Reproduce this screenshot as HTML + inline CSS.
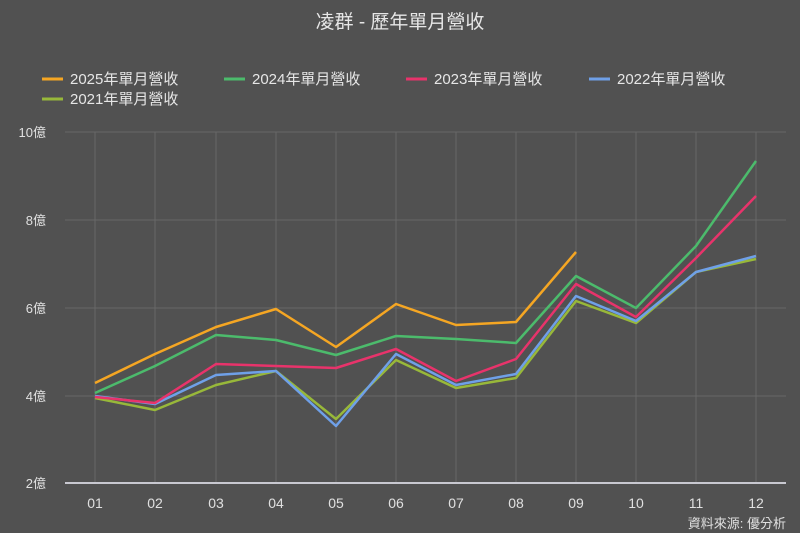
<!DOCTYPE html>
<html><head><meta charset="utf-8"><style>
body{margin:0;background:#515151}
svg{display:block;font-family:"Liberation Sans","Noto Sans CJK TC",sans-serif}
</style></head><body>
<svg width="800" height="533" viewBox="0 0 800 533">
<rect width="800" height="533" fill="#515151"/>
<text x="400" y="28" text-anchor="middle" fill="#e6e6e6" font-size="19">凌群 - 歷年單月營收</text>
<g font-size="15" fill="#e6e6e6">
<line x1="42" y1="79" x2="63" y2="79" stroke="#f5a623" stroke-width="3"/><text x="70" y="84">2025年單月營收</text>
<line x1="224" y1="79" x2="245" y2="79" stroke="#4cbb6c" stroke-width="3"/><text x="252" y="84">2024年單月營收</text>
<line x1="406" y1="79" x2="427" y2="79" stroke="#e8336b" stroke-width="3"/><text x="434" y="84">2023年單月營收</text>
<line x1="589" y1="79" x2="610" y2="79" stroke="#6fa0e8" stroke-width="3"/><text x="617" y="84">2022年單月營收</text>
<line x1="42" y1="99" x2="63" y2="99" stroke="#98b83a" stroke-width="3"/><text x="70" y="104">2021年單月營收</text>
</g>
<g stroke="#686868" stroke-width="1">
<line x1="65" y1="132" x2="786" y2="132"/><line x1="65" y1="220" x2="786" y2="220"/>
<line x1="65" y1="308" x2="786" y2="308"/><line x1="65" y1="396" x2="786" y2="396"/>
<line x1="95" y1="132" x2="95" y2="483"/><line x1="155" y1="132" x2="155" y2="483"/>
<line x1="216" y1="132" x2="216" y2="483"/><line x1="276" y1="132" x2="276" y2="483"/>
<line x1="336" y1="132" x2="336" y2="483"/><line x1="396" y1="132" x2="396" y2="483"/>
<line x1="456" y1="132" x2="456" y2="483"/><line x1="516" y1="132" x2="516" y2="483"/>
<line x1="576" y1="132" x2="576" y2="483"/><line x1="636" y1="132" x2="636" y2="483"/>
<line x1="696" y1="132" x2="696" y2="483"/><line x1="756" y1="132" x2="756" y2="483"/>
</g>
<line x1="65" y1="483" x2="786" y2="483" stroke="#c8c8d0" stroke-width="2"/>
<g font-size="13" fill="#e0e0e0" text-anchor="end">
<text x="46" y="137">10億</text><text x="46" y="225">8億</text><text x="46" y="313">6億</text><text x="46" y="401">4億</text><text x="46" y="488">2億</text>
</g>
<g font-size="14" fill="#e0e0e0" text-anchor="middle">
<text x="95" y="508">01</text><text x="155" y="508">02</text><text x="216" y="508">03</text><text x="276" y="508">04</text><text x="336" y="508">05</text><text x="396" y="508">06</text><text x="456" y="508">07</text><text x="516" y="508">08</text><text x="576" y="508">09</text><text x="636" y="508">10</text><text x="696" y="508">11</text><text x="756" y="508">12</text>
</g>
<text x="786" y="528" text-anchor="end" font-size="13" fill="#e0e0e0">資料來源: 優分析</text>
<g fill="none" stroke-width="2.5" stroke-linejoin="round">
<polyline stroke="#98b83a" points="95,398 155,410 216,385 276,371 336,419 396,360 456,388 516,378 576,301 636,323 696,272 756,259"/>
<polyline stroke="#6fa0e8" points="95,396 155,404 216,375 276,371 336,426 396,354 456,385 516,374 576,296 636,321 696,272 756,256"/>
<polyline stroke="#e8336b" points="95,397 155,403 216,364 276,366 336,368 396,349 456,381 516,359 576,284 636,317 696,258 756,196"/>
<polyline stroke="#4cbb6c" points="95,393 155,366 216,335 276,340 336,355 396,336 456,339 516,343 576,276 636,308 696,246 756,161"/>
<polyline stroke="#f5a623" points="95,383 155,354 216,327 276,309 336,347 396,304 456,325 516,322 576,252"/>
</g>
</svg>
</body></html>
